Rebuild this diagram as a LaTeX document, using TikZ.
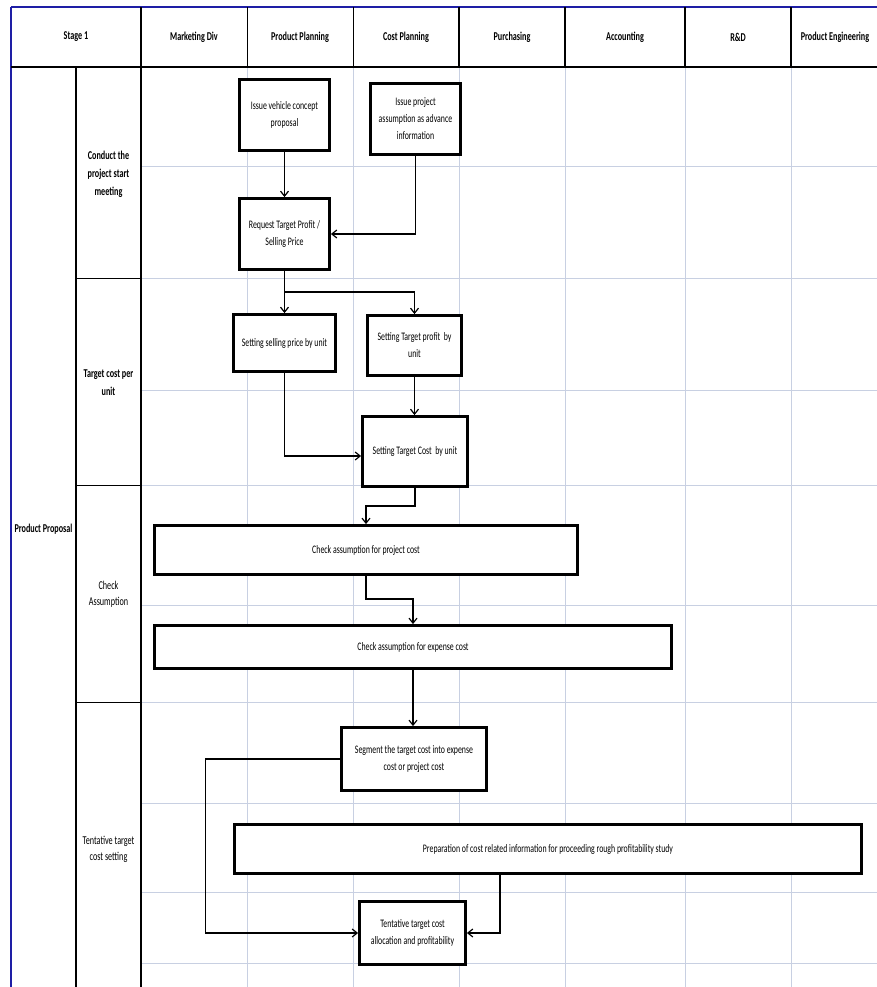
\documentclass[tikz,border=0pt]{standalone}
\usepackage{fontspec}
\setmainfont{Carlito}[FakeStretch=0.68]
\usetikzlibrary{arrows.meta}
\definecolor{gridc}{RGB}{200,208,226}
\definecolor{frameblue}{RGB}{30,30,165}
\begin{document}
\begin{tikzpicture}[x=1pt,y=-1pt,
  gridline/.style={draw=gridc, line width=0.8pt},
  lane/.style={draw=black, line width=2pt},
  thinlane/.style={draw=black, line width=1pt},
  stepbox/.style={draw=black, line width=2.8pt, fill=white, align=center,
    inner sep=2pt, font=\fontsize{11.5}{17}\selectfont},
  head/.style={font=\bfseries\fontsize{12}{14}\selectfont},
  lanelabel/.style={align=center, font=\bfseries\fontsize{12}{18}\selectfont},
  lanelabelr/.style={align=center, font=\fontsize{12}{16}\selectfont},
  flow/.style={draw=black, line width=1.2pt, -{Straight Barb[length=5pt,width=8pt]}}]
\useasboundingbox (0,0) rectangle (877,987);
\fill[white] (0,0) rectangle (877,987);

% light grid of the swimlane sheet
\foreach \gx in {247,353,459,565,685,791}
  \draw[gridline] (\gx,67) -- (\gx,987);
\foreach \gy in {166,278,390,485,605,702,803,892,963}
  \draw[gridline] (141,\gy) -- (877,\gy);

% frame and header row
\draw[frameblue, line width=2pt] (11,7) -- (877,7);
\draw[frameblue, line width=1.3pt] (11,7) -- (11,987);
\draw[lane] (11,67) -- (877,67);
\draw[lane] (141,7) -- (141,987);
\draw[lane] (76,67) -- (76,987);
\foreach \gx in {247,353}
  \draw[thinlane] (\gx,7) -- (\gx,67);
\foreach \gx in {459,565,685,791}
  \draw[draw=black, line width=1.4pt] (\gx,7) -- (\gx,67);
\foreach \gy in {278,485,702}
  \draw[thinlane] (76,\gy) -- (141,\gy);

% header labels
\node[head] (hstage) at (76,37) {Stage 1};
\node[head] (hmkt)   at (194,37) {Marketing Div};
\node[head] (hpp)    at (300,37) {Product Planning};
\node[head] (hcp)    at (406,37) {Cost Planning};
\node[head] (hpur)   at (512,37) {Purchasing};
\node[head] (hacc)   at (625,37) {Accounting};
\node[head] (hrd)    at (738,37) {R\&D};
\node[head] (hpe)    at (835,37) {Product Engineering};

% stage and step labels
\node[lanelabel] (lpp) at (43.5,529) {Product Proposal};
\node[lanelabel] (l1) at (108.5,174) {Conduct the\\project start\\meeting};
\node[lanelabel] (l2) at (108.5,383) {Target cost per\\unit};
\node[lanelabelr] (l3) at (108.5,594) {Check\\Assumption};
\node[lanelabelr] (l4) at (108.5,849) {Tentative target\\cost setting};

% process boxes
\node[stepbox, minimum width=90pt, minimum height=71pt] (b1) at (284.5,115)
  {Issue vehicle concept\\proposal};
\node[stepbox, minimum width=90pt, minimum height=71pt] (b2) at (415.5,119)
  {Issue project\\assumption as advance\\information};
\node[stepbox, minimum width=90pt, minimum height=71pt] (b3) at (284.5,234)
  {Request Target Profit /\\Selling Price};
\node[stepbox, minimum width=102pt, minimum height=57pt] (b4) at (284.5,343)
  {Setting selling price by unit};
\node[stepbox, minimum width=94pt, minimum height=60pt] (b5) at (414.5,345.5)
  {Setting Target profit\ \ by\\unit};
\node[stepbox, minimum width=105pt, minimum height=70pt] (b6) at (415,451.5)
  {Setting Target Cost\ \ by unit};
\node[stepbox, minimum width=423pt, minimum height=49pt] (b7) at (366,550)
  {Check assumption for project cost};
\node[stepbox, minimum width=517pt, minimum height=43pt] (b8) at (413,647)
  {Check assumption for expense cost};
\node[stepbox, minimum width=145pt, minimum height=63pt] (b9) at (414,759)
  {Segment the target cost into expense\\cost or project cost};
\node[stepbox, minimum width=627pt, minimum height=49pt] (b10) at (548,849)
  {Preparation of cost related information for proceeding rough profitability study};
\node[stepbox, minimum width=106pt, minimum height=63pt] (b11) at (412.5,933)
  {Tentative target cost\\allocation and profitability};

% connectors
\draw[flow] (b1.south) -- (b3.north);
\draw[flow] (b2.south) |- (b3.east);
\draw[flow] (b3.south) -- (b4.north);
\draw[flow] (b3.south) -- ++(0,21) -| (b5.north);
\draw[flow] (b4.south) |- ([yshift=-4.5pt]b6.west);
\draw[flow] (b5.south) -- (b5.south |- b6.north);
\draw[flow] (b6.south) -- ++(0,18) -| (b7.north);
\draw[flow] (b7.south) -- ++(0,23) -| (b8.north);
\draw[flow] (b8.south) -- (b8.south |- b9.north);
\draw[flow] (b9.west) -- ++(-135,0) |- (b11.west);
\draw[flow] ([xshift=-48pt]b10.south) |- (b11.east);
\end{tikzpicture}
\end{document}
